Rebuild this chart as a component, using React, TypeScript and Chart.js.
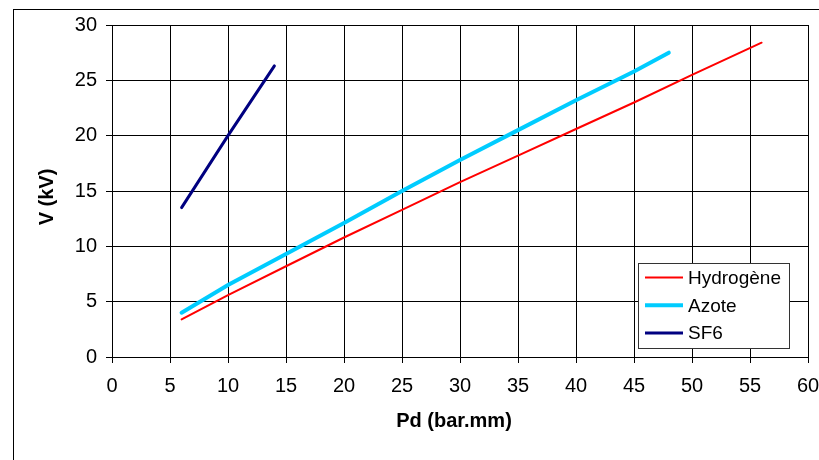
import React, { useEffect, useRef } from "react";
import { Chart, registerables } from "chart.js";

Chart.register(...registerables);

const hydrogenX = [6, 10, 15, 20, 25, 30, 35, 40, 45, 50, 56];
const hydrogenY = [3.4, 5.6, 8.2, 10.8, 13.3, 15.8, 18.2, 20.6, 23.0, 25.5, 28.4];
const azoteX = [6, 10, 15, 20, 25, 30, 35, 40, 45, 48];
const azoteY = [4.0, 6.5, 9.3, 12.1, 15.0, 17.8, 20.5, 23.2, 25.8, 27.5];
const sf6X = [6, 10, 14];
const sf6Y = [13.5, 20.0, 26.3];

const seriesLabels = ["Hydrogène", "Azote", "SF6"];
const seriesColors = ["#FF0000", "#00CCFF", "#000080"];
const seriesWidths = [2, 4, 3];
const xTitle = "Pd (bar.mm)";
const yTitle = "V (kV)";

const FONT = "Arial, 'Liberation Sans', sans-serif";

const toPoints = (xs: number[], ys: number[]) => xs.map((x, i) => ({ x, y: ys[i] }));

const decorPlugin = {
  id: "decor",
  beforeDraw(chart: any) {
    const ctx = chart.ctx;
    ctx.save();
    ctx.fillStyle = "#ffffff";
    ctx.fillRect(0, 0, chart.width, chart.height);
    ctx.strokeStyle = "#000000";
    ctx.lineWidth = 1;
    ctx.strokeRect(13.5, 9.5, chart.width + 20, chart.height + 20);
    ctx.restore();
  },
  afterDraw(chart: any) {
    const ctx = chart.ctx;
    ctx.save();
    ctx.fillStyle = "#000000";
    ctx.font = `bold 20px ${FONT}`;
    ctx.textAlign = "center";
    ctx.textBaseline = "middle";
    ctx.fillText(xTitle, 454, 421);
    ctx.translate(47, 197);
    ctx.rotate(-Math.PI / 2);
    ctx.fillText(yTitle, 0, 0);
    ctx.restore();

    ctx.save();
    const lx = 638.5, ly = 263.5, lw = 151, lh = 85;
    ctx.fillStyle = "#ffffff";
    ctx.fillRect(lx, ly, lw, lh);
    ctx.strokeStyle = "#333333";
    ctx.lineWidth = 1;
    ctx.strokeRect(lx, ly, lw, lh);
    ctx.font = `19px ${FONT}`;
    ctx.textAlign = "left";
    ctx.textBaseline = "middle";
    chart.data.datasets.forEach((ds: any, i: number) => {
      const cy = 277.5 + i * 27.8;
      ctx.strokeStyle = ds.borderColor;
      ctx.lineWidth = ds.borderWidth;
      ctx.beginPath();
      ctx.moveTo(645, cy);
      ctx.lineTo(683, cy);
      ctx.stroke();
      ctx.fillStyle = "#000000";
      ctx.fillText(ds.label, 688, cy + 1);
    });
    ctx.restore();
  },
};

export default function App() {
  const ref = useRef<HTMLCanvasElement>(null);
  useEffect(() => {
    if (!ref.current) return;
    const chart = new Chart(ref.current, {
      type: "line",
      data: {
        datasets: [
          { label: seriesLabels[0], data: toPoints(hydrogenX, hydrogenY) },
          { label: seriesLabels[1], data: toPoints(azoteX, azoteY) },
          { label: seriesLabels[2], data: toPoints(sf6X, sf6Y) },
        ].map((d, i) => ({
          ...d,
          borderColor: seriesColors[i],
          backgroundColor: seriesColors[i],
          borderWidth: seriesWidths[i],
          pointRadius: 0,
          fill: false,
          tension: 0,
          borderCapStyle: "round" as const,
        })),
      },
      options: {
        animation: false,
        responsive: false,
        devicePixelRatio: 1,
        layout: { padding: { left: 0, top: 25, right: 11, bottom: 0 } },
        plugins: { legend: { display: false }, tooltip: { enabled: false } },
        scales: {
          x: {
            type: "linear",
            min: 0,
            max: 60,
            afterFit: (s: any) => {
              s.height = 103;
              s.paddingLeft = 0;
              s.paddingRight = 0;
            },
            ticks: { stepSize: 5, color: "#000", font: { family: FONT, size: 20 }, padding: 11, maxRotation: 0 },
            grid: { color: "#000", lineWidth: 1, tickLength: 6, drawTicks: true },
            border: { color: "#000", width: 1 },
          },
          y: {
            type: "linear",
            min: 0,
            max: 30,
            afterFit: (s: any) => {
              s.width = 112;
              s.paddingTop = 0;
              s.paddingBottom = 0;
            },
            ticks: { stepSize: 5, color: "#000", font: { family: FONT, size: 20 }, padding: 9 },
            grid: { color: "#000", lineWidth: 1, tickLength: 6, drawTicks: true },
            border: { color: "#000", width: 1 },
          },
        },
      },
      plugins: [decorPlugin],
    });
    return () => chart.destroy();
  }, []);
  return (
    <div style={{ position: "fixed", left: 0, top: 0, width: 819, height: 460 }}>
      <canvas ref={ref} width={819} height={460} style={{ display: "block", width: 819, height: 460 }} />
    </div>
  );
}
